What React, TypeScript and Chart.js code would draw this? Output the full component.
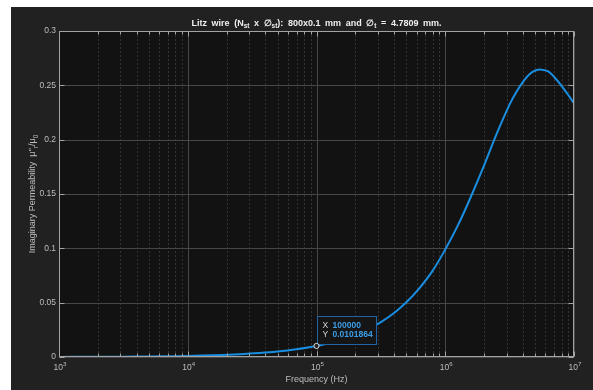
import React, { useEffect, useRef } from 'react';
import { Chart, registerables } from 'chart.js';

Chart.register(...registerables);

// ---------- data ----------
const frequencyHz = [
  1000, 1585, 2512, 3981, 6310,
  10000, 15849, 25119, 39811, 63096,
  100000, 125893, 158489, 199526, 251189, 316228, 398107, 501187, 630957, 794328,
  1000000, 1258925, 1584893, 1995262, 2511886, 3162278, 3548134, 3981072, 4466836,
  5011872, 5623413, 6309573, 7079458, 7943282, 8912509, 10000000,
];
const imagPermeability = [
  0.000102, 0.000162, 0.000256, 0.000406, 0.000644,
  0.00102, 0.00162, 0.00256, 0.00406, 0.00643,
  0.0101864, 0.0128, 0.0161, 0.0203, 0.0255, 0.0321, 0.0403, 0.0506, 0.0634, 0.0790,
  0.0990, 0.1216, 0.1477, 0.1758, 0.2056, 0.2325, 0.2435, 0.2525, 0.2598,
  0.2637, 0.2644, 0.2628, 0.2572, 0.2500, 0.2420, 0.2335,
];
const yTickValues = [0, 0.05, 0.1, 0.15, 0.2, 0.25, 0.3];
const yTickLabels = ['0', '0.05', '0.1', '0.15', '0.2', '0.25', '0.3'];
const xDecades = [1e3, 1e4, 1e5, 1e6, 1e7];
const xDecadeExponents = ['3', '4', '5', '6', '7'];
const minorMultipliers = [2, 3, 4, 5, 6, 7, 8, 9];
const datatipX = 100000;
const datatipY = 0.0101864;
const datatipXText = '100000';
const datatipYText = '0.0101864';

const titleSegs = [
  { t: 'Litz wire (N' },
  { t: 'st', sub: true },
  { t: ' x \u2205' },
  { t: 'st', sub: true },
  { t: '): 800x0.1 mm and \u2205' },
  { t: 't', sub: true },
  { t: ' = 4.7809 mm.' },
];
const yLabelSegs = [
  { t: "Imaginary Permeability  \u03bc''" },
  { t: 'r', sub: true },
  { t: '/\u03bc' },
  { t: '0', sub: true },
];
const xLabel = 'Frequency (Hz)';

// ---------- style ----------
const FAMILY = "'Liberation Sans', Arial, sans-serif";
const FIG_BG = '#212121';
const AX_BG = '#121212';
const AX_COLOR = '#a3a3a3';
const TEXT_COLOR = '#bdbdbd';
const LINE_COLOR = '#1a8ee0';

type Seg = { t: string; sub?: boolean; sup?: boolean };

function fontFor(s: Seg, size: number, weight: string) {
  const sz = s.sub || s.sup ? size * 0.72 : size;
  return `${weight} ${sz}px ${FAMILY}`;
}
function segsWidth(ctx: CanvasRenderingContext2D, segs: Seg[], size: number, weight: string, extra: number) {
  let w = 0;
  for (const s of segs) {
    ctx.font = fontFor(s, size, weight);
    w += ctx.measureText(s.t).width;
    w += (s.t.match(/ /g) || []).length * extra;
  }
  return w;
}
function drawSegs(ctx: CanvasRenderingContext2D, segs: Seg[], x: number, y: number, size: number, weight: string, extra: number) {
  let cx = x;
  ctx.textAlign = 'left';
  ctx.textBaseline = 'alphabetic';
  for (const s of segs) {
    ctx.font = fontFor(s, size, weight);
    const dy = s.sub ? size * 0.3 : s.sup ? -size * 0.45 : 0;
    const parts = s.t.split(' ');
    parts.forEach((p, i) => {
      if (i > 0) cx += ctx.measureText(' ').width + extra;
      ctx.fillText(p, cx, y + dy);
      cx += ctx.measureText(p).width;
    });
  }
}

const decorPlugin = {
  id: 'matlabDecor',
  beforeDatasetsDraw(chart: any) {
    const { ctx, chartArea: a } = chart;
    const xs = chart.scales.x;
    const ys = chart.scales.y;
    ctx.save();
    ctx.fillStyle = AX_BG;
    ctx.fillRect(a.left, a.top, a.right - a.left, a.bottom - a.top);
    ctx.lineWidth = 1;
    // minor x grid (dotted)
    ctx.strokeStyle = '#333333';
    ctx.setLineDash([2, 2]);
    for (let d = 0; d < xDecades.length - 1; d++) {
      for (const m of minorMultipliers) {
        const px = Math.round(xs.getPixelForValue(xDecades[d] * m)) + 0.5;
        ctx.beginPath();
        ctx.moveTo(px, a.top);
        ctx.lineTo(px, a.bottom);
        ctx.stroke();
      }
    }
    ctx.setLineDash([]);
    ctx.strokeStyle = '#474747';
    for (const v of xDecades) {
      const px = Math.round(xs.getPixelForValue(v)) + 0.5;
      ctx.beginPath();
      ctx.moveTo(px, a.top);
      ctx.lineTo(px, a.bottom);
      ctx.stroke();
    }
    for (const v of yTickValues) {
      const py = Math.round(ys.getPixelForValue(v)) + 0.5;
      ctx.beginPath();
      ctx.moveTo(a.left, py);
      ctx.lineTo(a.right, py);
      ctx.stroke();
    }
    ctx.restore();
  },
  afterDatasetsDraw(chart: any) {
    const { ctx, chartArea: a } = chart;
    const xs = chart.scales.x;
    const ys = chart.scales.y;
    ctx.save();
    // box
    ctx.strokeStyle = AX_COLOR;
    ctx.lineWidth = 1;
    const L = Math.round(a.left) + 0.5, R = Math.round(a.right) - 0.5;
    const T = Math.round(a.top) + 0.5, B = Math.round(a.bottom) - 0.5;
    ctx.strokeRect(L, T, R - L, B - T);
    // x ticks (inside, top and bottom)
    const tick = (px: number, len: number) => {
      ctx.beginPath();
      ctx.moveTo(px, B); ctx.lineTo(px, B - len);
      ctx.moveTo(px, T); ctx.lineTo(px, T + len);
      ctx.stroke();
    };
    for (let d = 0; d < xDecades.length; d++) {
      tick(Math.round(xs.getPixelForValue(xDecades[d])) + 0.5, 5);
      if (d < xDecades.length - 1) {
        for (const m of minorMultipliers) {
          tick(Math.round(xs.getPixelForValue(xDecades[d] * m)) + 0.5, 3);
        }
      }
    }
    for (const v of yTickValues) {
      const py = Math.round(ys.getPixelForValue(v)) + 0.5;
      ctx.beginPath();
      ctx.moveTo(L, py); ctx.lineTo(L + 5, py);
      ctx.moveTo(R, py); ctx.lineTo(R - 5, py);
      ctx.stroke();
    }
    // x tick labels 10^n
    ctx.fillStyle = TEXT_COLOR;
    xDecades.forEach((v, i) => {
      const segs: Seg[] = [{ t: '10' }, { t: xDecadeExponents[i], sup: true }];
      const w = segsWidth(ctx, segs, 8.5, 'normal', 0);
      const px = xs.getPixelForValue(v);
      drawSegs(ctx, segs, px - w / 2 + 1, a.bottom + 12.5, 8.5, 'normal', 0);
    });
    // x label
    ctx.font = `normal 9px ${FAMILY}`;
    ctx.textAlign = 'center';
    ctx.textBaseline = 'alphabetic';
    ctx.fillText(xLabel, (a.left + a.right) / 2, a.bottom + 25);
    // y label
    ctx.save();
    const yw = segsWidth(ctx, yLabelSegs, 9, 'normal', 0);
    ctx.translate(24, (a.top + a.bottom) / 2);
    ctx.rotate(-Math.PI / 2);
    drawSegs(ctx, yLabelSegs, -yw / 2, 0, 9, 'normal', 0);
    ctx.restore();
    // title
    ctx.fillStyle = '#efefef';
    const extra = 2.1;
    const tw = segsWidth(ctx, titleSegs, 9, 'bold', extra);
    drawSegs(ctx, titleSegs, (a.left + a.right) / 2 - tw / 2, a.top - 5.5, 9, 'bold', extra);
    // datatip
    const px = xs.getPixelForValue(datatipX);
    const py = ys.getPixelForValue(datatipY);
    const bx = Math.round(px) + 0.5;
    const bh = 28;
    const bw = 59;
    const by = Math.round(py) - 1.5 - bh;
    ctx.fillStyle = '#151515';
    ctx.fillRect(bx, by, bw, bh);
    ctx.strokeStyle = '#1f64a3';
    ctx.lineWidth = 1;
    ctx.strokeRect(bx, by, bw, bh);
    ctx.font = `normal 8.5px ${FAMILY}`;
    ctx.textAlign = 'left';
    ctx.textBaseline = 'middle';
    ctx.fillStyle = '#d8d8d8';
    ctx.fillText('X', bx + 5, by + 9);
    ctx.fillText('Y', bx + 5, by + 18.5);
    ctx.fillStyle = '#3c9de6';
    ctx.font = `bold 8.5px ${FAMILY}`;
    ctx.fillText(datatipXText, bx + 15, by + 9);
    ctx.fillText(datatipYText, bx + 15, by + 18.5);
    // marker
    ctx.beginPath();
    ctx.arc(px, py, 2.6, 0, Math.PI * 2);
    ctx.fillStyle = '#222';
    ctx.fill();
    ctx.strokeStyle = '#dcdcdc';
    ctx.lineWidth = 1;
    ctx.stroke();
    ctx.restore();
  },
};

export default function App() {
  const canvasRef = useRef<HTMLCanvasElement | null>(null);

  useEffect(() => {
    const canvas = canvasRef.current;
    if (!canvas) return;
    const chart = new Chart(canvas, {
      type: 'line',
      data: {
        datasets: [
          {
            data: frequencyHz.map((f, i) => ({ x: f, y: imagPermeability[i] })),
            borderColor: LINE_COLOR,
            borderWidth: 2,
            pointRadius: 0,
            fill: false,
            tension: 0.4,
          },
        ],
      },
      options: {
        animation: false,
        responsive: false,
        maintainAspectRatio: false,
        parsing: false,
        layout: { padding: { left: 0, right: 19, top: 24, bottom: 0 } },
        plugins: {
          legend: { display: false },
          tooltip: { enabled: false },
          title: { display: false },
        },
        scales: {
          x: {
            type: 'logarithmic',
            min: 1e3,
            max: 1e7,
            grid: { display: false, drawTicks: false },
            border: { display: false },
            ticks: { display: false },
            afterFit: (s: any) => { s.height = 33; },
          },
          y: {
            type: 'linear',
            min: 0,
            max: 0.3,
            grid: { display: false, drawTicks: false },
            border: { display: false },
            afterBuildTicks: (s: any) => { s.ticks = yTickValues.map((v) => ({ value: v })); },
            ticks: {
              color: TEXT_COLOR,
              font: { size: 8.5, family: FAMILY },
              padding: 3,
              autoSkip: false,
              callback: (_v: any, i: number) => yTickLabels[i],
            },
            afterFit: (s: any) => { s.width = 48; },
          },
        },
      },
      plugins: [decorPlugin],
    } as any);
    return () => chart.destroy();
  }, []);

  return (
    <div style={{ position: 'fixed', left: 0, top: 0, width: 593, height: 390, background: '#ffffff' }}>
      <div style={{ position: 'absolute', left: 11, top: 7, width: 582, height: 383, background: FIG_BG }}>
        <canvas ref={canvasRef} width={582} height={383} style={{ display: 'block', width: 582, height: 383 }} />
      </div>
    </div>
  );
}
